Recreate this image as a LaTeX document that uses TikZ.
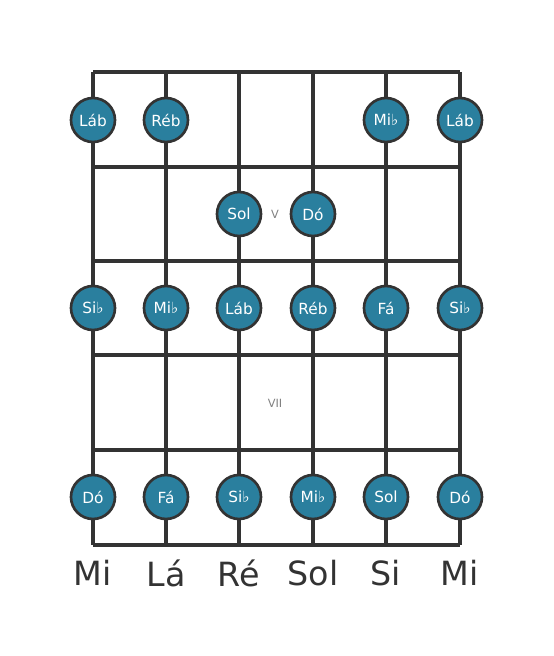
\documentclass[tikz,border=0pt]{standalone}
\usepackage{fontspec}
\setmainfont{DejaVu Sans}
\newcommand{\fl}{{\char"266D}}
\definecolor{notefill}{HTML}{2A7F9E}
\definecolor{linegray}{HTML}{333333}

\begin{document}
\begin{tikzpicture}[x=0.75pt,y=-0.75pt,
    note/.style={circle, draw=linegray, line width=2pt, fill=notefill, minimum size=33pt, inner sep=0pt, text=white, font=\fontsize{11.5}{12}\selectfont},
    fretmark/.style={text=gray, font=\fontsize{8.5}{10}\selectfont},
    stringname/.style={text=linegray, font=\fontsize{25}{28}\selectfont}]

	% Frame
	\useasboundingbox (0,0) rectangle (553,656);

	% Strings
	\foreach \x/\n in {93/s1,166/s2,239/s3,313/s4,386/s5,460/s6}{
	  \coordinate (\n top) at (\x,72);
	  \coordinate (\n bot) at (\x,545);
	  \draw[line width=2.3pt, color=linegray] (\n top) -- (\n bot);
	}

	% Frets
	\foreach \y/\n in {72/f0,167/f1,261/f2,355/f3,450/f4,545/f5}{
	  \draw[line width=3.2pt, color=linegray] (93,\y) coordinate (\n l) -- (460,\y) coordinate (\n r);
	}

	% Fret numbers
	\node[fretmark] (fv) at (275,214) {V};
	\node[fretmark] (fvii) at (275,403) {VII};

	% Notes
	\node[note] (n11) at (93,120) {Láb};
	\node[note] (n12) at (166,120) {Réb};
	\node[note] (n15) at (386,120) {Mi\fl};
	\node[note] (n16) at (460,120) {Láb};

	\node[note] (n23) at (239,214) {Sol};
	\node[note] (n24) at (313,214) {Dó};

	\node[note] (n31) at (93,308) {Si\fl};
	\node[note] (n32) at (166,308) {Mi\fl};
	\node[note] (n33) at (239,308) {Láb};
	\node[note] (n34) at (313,308) {Réb};
	\node[note] (n35) at (386,308) {Fá};
	\node[note] (n36) at (460,308) {Si\fl};

	\node[note] (n51) at (93,497) {Dó};
	\node[note] (n52) at (166,497) {Fá};
	\node[note] (n53) at (239,497) {Si\fl};
	\node[note] (n54) at (313,497) {Mi\fl};
	\node[note] (n55) at (386,497) {Sol};
	\node[note] (n56) at (460,497) {Dó};

	% String names
	\node[stringname] (t1) at (93,573) {Mi};
	\node[stringname] (t2) at (166,573) {Lá};
	\node[stringname] (t3) at (239,573) {Ré};
	\node[stringname] (t4) at (313,573) {Sol};
	\node[stringname] (t5) at (386,573) {Si};
	\node[stringname] (t6) at (460,573) {Mi};

\end{tikzpicture}
\end{document}
